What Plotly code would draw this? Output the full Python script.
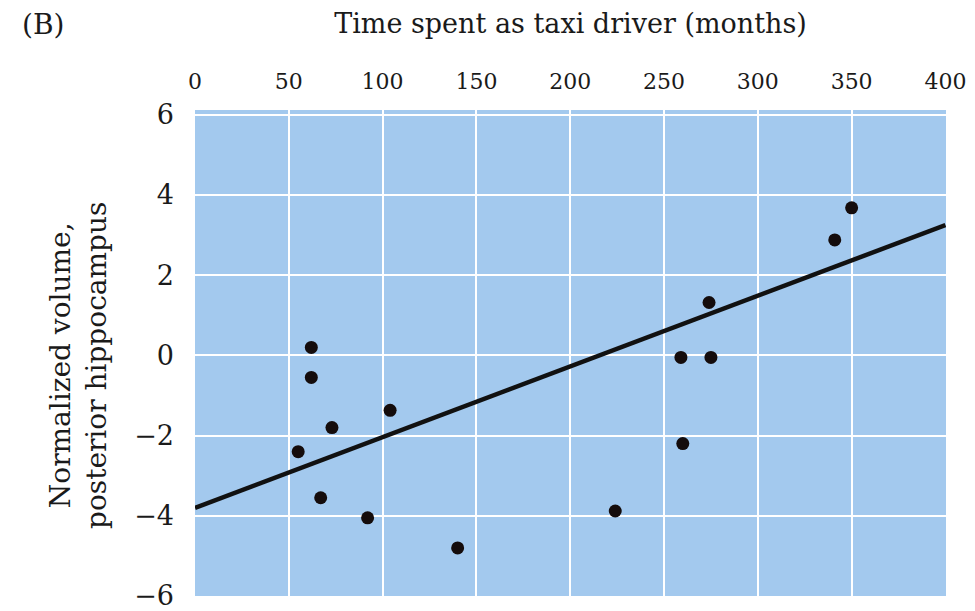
import plotly.graph_objects as go

# Data
months = [55, 62, 62, 67, 73, 92, 104, 140, 224, 259, 260, 274, 275, 341, 350]
volume = [-2.4, 0.2, -0.55, -3.55, -1.8, -4.05, -1.37, -4.8, -3.88, -0.05, -2.2, 1.32, -0.05, 2.88, 3.68]

fit_x = [0, 400]
fit_y = [-3.8, 3.25]

x_ticks = [0, 50, 100, 150, 200, 250, 300, 350, 400]
y_ticks = [-6, -4, -2, 0, 2, 4, 6]

FONT = "DejaVu Serif"
TXT = "#1a1a1a"

L, R, T, B = 195, 29, 110, 15
W, H = 975, 611
PW, PH = W - L - R, H - T - B

fig = go.Figure()
fig.add_trace(go.Scatter(
    x=fit_x, y=fit_y, mode="lines",
    line=dict(color="#111111", width=4.5),
    showlegend=False, hoverinfo="skip",
))
fig.add_trace(go.Scatter(
    x=months, y=volume, mode="markers",
    marker=dict(color="#140c0c", size=13, line=dict(width=0)),
    showlegend=False,
))

fig.update_layout(
    width=W, height=H,
    margin=dict(l=L, r=R, t=T, b=B, autoexpand=False),
    paper_bgcolor="white",
    plot_bgcolor="#a3c9ee",
    font=dict(family=FONT, color=TXT),
    xaxis=dict(
        side="top",
        range=[0, 400.3],
        tickvals=x_ticks,
        ticktext=[str(v) for v in x_ticks],
        tickfont=dict(size=22, family=FONT, color=TXT),
        showgrid=True, gridcolor="white", gridwidth=2,
        zeroline=False, showline=False, automargin=False,
        ticks="", ticklabelstandoff=16, ticklabeloverflow="allow",
        title=dict(text="Time spent as taxi driver (months)",
                   font=dict(size=27, family=FONT, color=TXT), standoff=27),
    ),
    yaxis=dict(
        range=[-6.0, 6.12],
        tickvals=y_ticks,
        tickfont=dict(size=27, family=FONT, color=TXT),
        showgrid=True, gridcolor="white", gridwidth=2,
        zeroline=False, showline=False, automargin=False,
        ticks="", ticklabelstandoff=20, ticklabeloverflow="allow",
    ),
    annotations=[
        dict(text="(B)", x=(20 - L) / PW, y=1 + (T - 6) / PH,
             xref="paper", yref="paper",
             xanchor="left", yanchor="top", showarrow=False,
             font=dict(size=28, family=FONT, color=TXT)),
        dict(text="Normalized volume,<br>posterior hippocampus",
             textangle=-90, x=(78 - L) / PW, y=1 - (366 - T) / PH,
             xref="paper", yref="paper",
             xanchor="center", yanchor="middle", showarrow=False,
             font=dict(size=28, family=FONT, color=TXT)),
    ],
)

fig.write_html("out.html", config={"displayModeBar": False},
               post_script="document.body.style.margin='0px';")
